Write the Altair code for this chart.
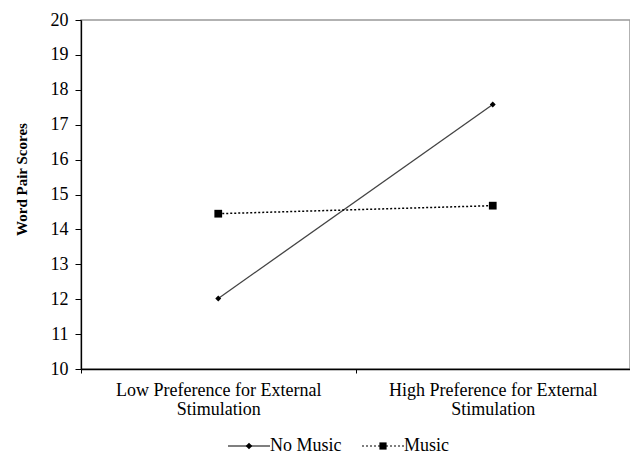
import altair as alt
import pandas as pd

categories = ["Low Preference for External|Stimulation", "High Preference for External|Stimulation"]
series = ["No Music", "Music"]
no_music = [12.02, 17.58]
music = [14.45, 14.68]
y_ticks = list(range(10, 21))

rows = []
for s, vals in zip(series, [no_music, music]):
    for c, v in zip(categories, vals):
        rows.append({"condition": c, "series": s, "marker_key": s + "|m", "score": v})
df = pd.DataFrame(rows)
marker_keys = [s + "|m" for s in series]

FONT = "Liberation Serif"

x_enc = alt.X(
    "condition:N", sort=categories, title=None, bandPosition=0.5,
    scale=alt.Scale(type="band", domain=categories, paddingInner=0, paddingOuter=0),
    axis=alt.Axis(labelExpr="split(datum.label, '|')", labelAngle=0, tickBand="extent",
                  labelFontSize=18, labelLineHeight=19, labelPadding=8, tickSize=4,
                  labelBaseline="top", labelLimit=400),
)
y_enc = alt.Y(
    "score:Q",
    scale=alt.Scale(domain=[10, 20], nice=False, zero=False),
    axis=alt.Axis(values=y_ticks, title="Word Pair Scores", labelFontSize=18, labelPadding=7,
                  tickSize=6, titleFontSize=15, titleFontWeight="bold",
                  titleX=-60, titleY=159, titleAngle=270, titleBaseline="middle",
                  titleAlign="center"),
)

base = alt.Chart(df).encode(x=x_enc, y=y_enc)

line_nm = base.transform_filter(alt.datum.series == "No Music").mark_line(
    color="#444444", strokeWidth=1.3)
line_m = base.transform_filter(alt.datum.series == "Music").mark_line(
    color="black", strokeWidth=1.5, strokeDash=[2, 2])
pt_nm = base.transform_filter(alt.datum.series == "No Music").mark_point(
    shape="diamond", filled=True, color="black", size=35, opacity=1)
pt_m = base.transform_filter(alt.datum.series == "Music").mark_point(
    shape="square", filled=True, color="black", size=60, opacity=1)

# legend symbols: a line part (stroked, dashed per series) and a marker part (filled)
path_line = "M-3.5,0L3.5,0"
path_diamond = "M0,-0.55L0.55,0L0,0.55L-0.55,0Z"
path_square = "M-0.6,-0.6L0.6,-0.6L0.6,0.6L-0.6,0.6Z"

common = dict(title=None, orient="none", legendX=144, legendY=417, direction="horizontal",
              labelFontSize=18, symbolSize=144, symbolOffset=15, labelOffset=12,
              columnPadding=17, padding=0)

leg_line = alt.Legend(symbolType=path_line, symbolStrokeWidth=1.2, symbolStrokeColor="black",
                      **common)
leg_marker = alt.Legend(symbolFillColor="black", labelOpacity=0,
                        labelExpr="split(datum.label, '|')[0]", **common)

legend_lines = base.transform_filter("false").mark_point(
    filled=False, color="black", shape=path_line, opacity=1).encode(
    strokeDash=alt.StrokeDash("series:N", scale=alt.Scale(domain=series, range=[[1, 0], [2, 2]]),
                              legend=leg_line),
)
legend_markers = base.transform_filter("false").mark_point(
    filled=True, color="black", opacity=1).encode(
    shape=alt.Shape("marker_key:N",
                    scale=alt.Scale(domain=marker_keys, range=[path_diamond, path_square]),
                    legend=leg_marker),
)

chart = alt.layer(line_nm, line_m, pt_nm, pt_m, legend_lines, legend_markers).properties(
    width=549, height=349,
    autosize=alt.AutoSizeParams(type="none"),
    padding={"left": 73, "top": 12, "right": 0, "bottom": 85},
    background="white",
).configure(font=FONT).configure_view(stroke="#999999", strokeWidth=1.5).configure_axis(
    labelFont=FONT, titleFont=FONT, labelColor="black", titleColor="black",
    tickColor="black", domainColor="black", domainWidth=1.3, grid=False,
).configure_legend(labelFont=FONT, labelColor="black")

chart.save("out.html", embed_options={"renderer": "svg", "actions": False})
